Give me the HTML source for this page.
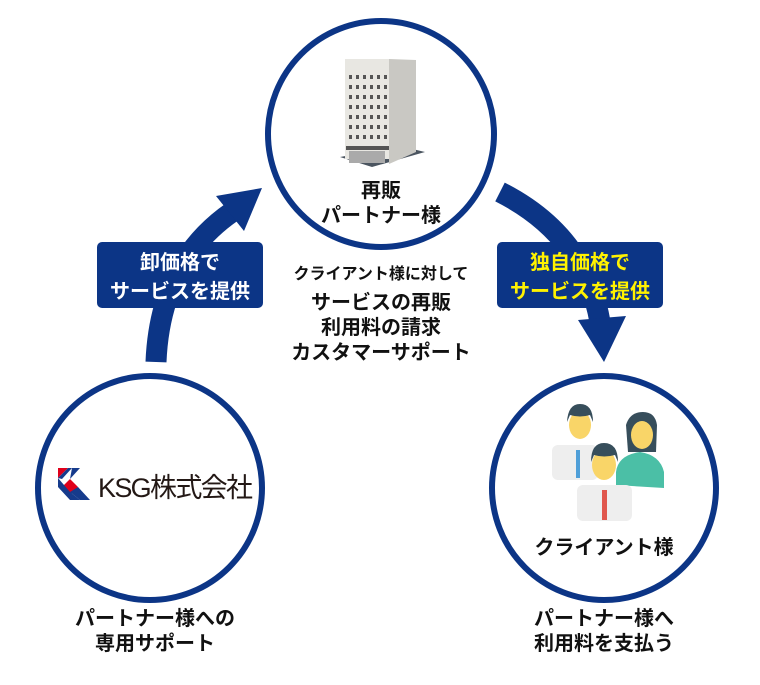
<!DOCTYPE html>
<html><head><meta charset="utf-8"><style>
body{margin:0;background:#fff;}
svg text{font-family:"Liberation Sans","Noto Sans CJK JP",sans-serif;font-weight:bold;}
</style></head><body>
<svg width="760" height="680" viewBox="0 0 760 680" xmlns="http://www.w3.org/2000/svg">
<g fill="none" stroke="#0c3586" stroke-width="6">
<circle cx="381" cy="134" r="113"/>
<circle cx="150" cy="488" r="112"/>
<circle cx="604" cy="488" r="112"/>
</g>
<path d="M156 362 Q160 262 232 212" fill="none" stroke="#0c3586" stroke-width="21"/>
<polygon points="262,188 216,196 244,231" fill="#0c3586"/>
<path d="M500 192 Q585 235 600 322" fill="none" stroke="#0c3586" stroke-width="21"/>
<polygon points="604,362 578,320 626,316" fill="#0c3586"/>
<rect x="97" y="242" width="166" height="66" rx="5" fill="#0c3586"/>
<text x="180" y="269" font-size="20" fill="#fff" text-anchor="middle">卸価格で</text>
<text x="180" y="298" font-size="20" fill="#fff" text-anchor="middle">サービスを提供</text>
<rect x="497" y="242" width="166" height="66" rx="5" fill="#0c3586"/>
<text x="580" y="269" font-size="20" fill="#fff200" text-anchor="middle">独自価格で</text>
<text x="580" y="298" font-size="20" fill="#fff200" text-anchor="middle">サービスを提供</text>
<g>
<polygon points="340,157 372,167 425,152 400,146" fill="#4b5560"/>
<rect x="345" y="59" width="44" height="100" fill="#e8e7e2"/>
<polygon points="389,59 416,60 416,152 389,164" fill="#c9c8c3"/>
<rect x="346" y="146" width="43" height="4" fill="#555"/>
<rect x="349" y="151" width="36" height="12" fill="#aaa"/>
<g fill="#555">
<rect x="349" y="75" width="3" height="4"/><rect x="356" y="75" width="3" height="4"/><rect x="363" y="75" width="3" height="4"/><rect x="370" y="75" width="3" height="4"/><rect x="377" y="75" width="3" height="4"/><rect x="384" y="75" width="3" height="4"/>
<rect x="349" y="85" width="3" height="4"/><rect x="356" y="85" width="3" height="4"/><rect x="363" y="85" width="3" height="4"/><rect x="370" y="85" width="3" height="4"/><rect x="377" y="85" width="3" height="4"/><rect x="384" y="85" width="3" height="4"/>
<rect x="349" y="95" width="3" height="4"/><rect x="356" y="95" width="3" height="4"/><rect x="363" y="95" width="3" height="4"/><rect x="370" y="95" width="3" height="4"/><rect x="377" y="95" width="3" height="4"/><rect x="384" y="95" width="3" height="4"/>
<rect x="349" y="105" width="3" height="4"/><rect x="356" y="105" width="3" height="4"/><rect x="363" y="105" width="3" height="4"/><rect x="370" y="105" width="3" height="4"/><rect x="377" y="105" width="3" height="4"/><rect x="384" y="105" width="3" height="4"/>
<rect x="349" y="115" width="3" height="4"/><rect x="356" y="115" width="3" height="4"/><rect x="363" y="115" width="3" height="4"/><rect x="370" y="115" width="3" height="4"/><rect x="377" y="115" width="3" height="4"/><rect x="384" y="115" width="3" height="4"/>
<rect x="349" y="125" width="3" height="4"/><rect x="356" y="125" width="3" height="4"/><rect x="363" y="125" width="3" height="4"/><rect x="370" y="125" width="3" height="4"/><rect x="377" y="125" width="3" height="4"/><rect x="384" y="125" width="3" height="4"/>
<rect x="349" y="135" width="3" height="4"/><rect x="356" y="135" width="3" height="4"/><rect x="363" y="135" width="3" height="4"/><rect x="370" y="135" width="3" height="4"/><rect x="377" y="135" width="3" height="4"/><rect x="384" y="135" width="3" height="4"/>
</g>
</g>
<text x="381" y="197" font-size="20" fill="#111" text-anchor="middle">再販</text>
<text x="381" y="222" font-size="20" fill="#111" text-anchor="middle">パートナー様</text>
<text x="381" y="279" font-size="16" fill="#111" text-anchor="middle">クライアント様に対して</text>
<text x="381" y="309" font-size="20" fill="#111" text-anchor="middle">サービスの再販</text>
<text x="381" y="334" font-size="20" fill="#111" text-anchor="middle">利用料の請求</text>
<text x="381" y="359" font-size="20" fill="#111" text-anchor="middle">カスタマーサポート</text>
<polygon points="58,468 68,468 58,478" fill="#e0001b"/>
<polygon points="62,487 70,479 78,487 70,495" fill="#e0001b"/>
<polygon points="58,478 68,468 72,468 62,479" fill="#163b8c"/>
<polygon points="72,468 80,468 70,479" fill="#163b8c"/>
<polygon points="58,478 70,492 80,500 70,500 58,487" fill="#163b8c"/>
<polygon points="70,492 78,487 90,500 80,500" fill="#163b8c"/>
<text x="98" y="497" font-size="27" style="font-weight:normal" fill="#231815" textLength="155">KSG株式会社</text>
<g>
<rect x="552" y="445" width="46" height="35" rx="6" fill="#eeeeee"/>
<rect x="576" y="450" width="4" height="28" fill="#4f9fd8"/>
<ellipse cx="580" cy="425" rx="11" ry="14" fill="#f9d568"/>
<path d="M567 422 Q568 404 580 404 Q593 404 593 422 L590 415 Q580 418 570 415 Z" fill="#374e5b"/>
<path d="M616 485 L616 472 Q618 455 640 452 Q660 455 664 472 L664 488 Z" fill="#4bbfa6"/>
<path d="M628 452 L626 425 Q630 412 643 412 Q655 412 657 425 L656 452 Z" fill="#374e5b"/>
<ellipse cx="642" cy="435" rx="11" ry="14" fill="#f9d568"/>
<rect x="577" y="485" width="55" height="36" rx="6" fill="#eeeeee"/>
<rect x="602" y="490" width="5" height="30" fill="#e0574d"/>
<ellipse cx="604" cy="465" rx="12" ry="15" fill="#f9d568"/>
<path d="M591 462 Q591 443 604 443 Q618 443 618 462 L615 455 Q604 458 594 455 Z" fill="#374e5b"/>
</g>
<text x="604" y="554" font-size="20" fill="#111" text-anchor="middle">クライアント様</text>
<text x="155" y="625" font-size="20" fill="#111" text-anchor="middle">パートナー様への</text>
<text x="155" y="650" font-size="20" fill="#111" text-anchor="middle">専用サポート</text>
<text x="604" y="625" font-size="20" fill="#111" text-anchor="middle">パートナー様へ</text>
<text x="604" y="650" font-size="20" fill="#111" text-anchor="middle">利用料を支払う</text>
</svg>
</body></html>
